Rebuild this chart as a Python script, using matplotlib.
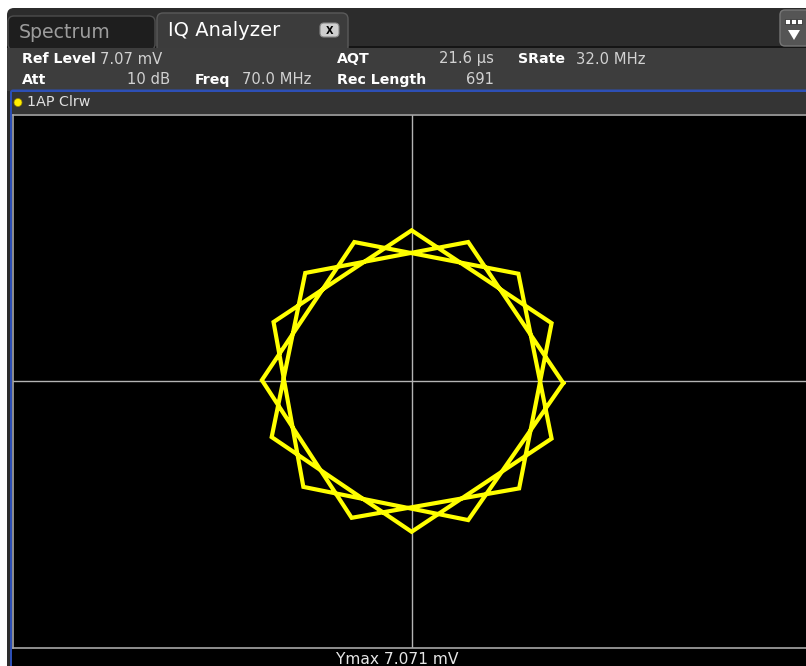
import matplotlib
matplotlib.use("Agg")
from matplotlib import pyplot as plt
from matplotlib.patches import Rectangle, FancyBboxPatch, Circle, Polygon

# IQ trace samples (mV) in trace order
i_vals = [4.01, 1.49, -2.83, -3.72, -0.01, 3.70, 2.82, -1.53, -3.98,
          -1.60, 2.84, 3.70, -0.01, -3.67, -2.88, 1.49, 4.01]
q_vals = [-0.05, 3.69, 2.87, -1.48, -3.99, -1.52, 2.85, 3.69, 0.03,
          -3.62, -2.84, 1.54, 4.00, 1.57, -2.80, -3.68, -0.05]

y_max = 7.071
tabs = ["Spectrum", "IQ Analyzer"]
header_rows = [
    [("Ref Level", True, 22, "left"), ("7.07 mV", False, 100, "left"),
     ("AQT", True, 337, "left"), ("21.6 µs", False, 494, "right"),
     ("SRate", True, 518, "left"), ("32.0 MHz", False, 576, "left")],
    [("Att", True, 22, "left"), ("10 dB", False, 170, "right"),
     ("Freq", True, 195, "left"), ("70.0 MHz", False, 242, "left"),
     ("Rec Length", True, 337, "left"), ("691", False, 494, "right")],
]
trace_label = "1AP Clrw"

W, H = 806, 666
fig = plt.figure(figsize=(W / 100, H / 100), dpi=100, facecolor="white")

# --- screen chrome drawn in pixel coordinates ---
ui = fig.add_axes([0, 0, 1, 1])
ui.set_xlim(0, W)
ui.set_ylim(H, 0)
ui.axis("off")

x0 = 7
ui.add_patch(FancyBboxPatch((x0, 8), W, H, boxstyle="round,pad=0,rounding_size=7",
                            fc="#2c2c2c", ec="none"))
ui.add_patch(Rectangle((x0, 46), W, 1.5, fc="#151515", ec="none"))
ui.add_patch(FancyBboxPatch((x0 + 1, 16), 147, 34, boxstyle="round,pad=0,rounding_size=6",
                            fc="#1e1e1e", ec="#4d4d4d", lw=1))
ui.add_patch(FancyBboxPatch((157, 13), 191, 40, boxstyle="round,pad=0,rounding_size=6",
                            fc="#3c3c3c", ec="#5a5a5a", lw=1))
ui.text(19, 32, tabs[0], color="#9c9c9c", fontsize=13.6, va="center", ha="left")
ui.text(168, 31, tabs[1], color="white", fontsize=14, va="center", ha="left")
ui.add_patch(FancyBboxPatch((320, 23), 19, 14, boxstyle="round,pad=0,rounding_size=4",
                            fc="#cfcfcf", ec="#888888", lw=0.8))
ui.text(329.5, 30.5, "X", color="black", fontsize=7, fontweight="bold",
        ha="center", va="center")

# menu button top right
ui.add_patch(FancyBboxPatch((780, 10), 30, 36, boxstyle="round,pad=0,rounding_size=5",
                            fc="#555555", ec="#767676", lw=1))
for dx in (787, 793, 799):
    ui.add_patch(Rectangle((dx - 2.5, 19), 5, 5, fc="white", ec="#222222", lw=0.5))
ui.add_patch(Polygon([[788, 30], [800, 30], [794, 40]], closed=True, fc="white", ec="none"))

# header info block
ui.add_patch(Rectangle((x0, 47.5), W, 43, fc="#3d3d3d", ec="none"))
for row, y in zip(header_rows, (59, 80)):
    for txt, bold, x, ha in row:
        ui.text(x, y, txt, color="white" if bold else "#d2d2d2",
                fontsize=10.2 if bold else 10.6,
                fontweight="bold" if bold else "normal", ha=ha, va="center")

# blue window frame + trace label row
ui.add_patch(FancyBboxPatch((10, 89.5), W, H, boxstyle="round,pad=0,rounding_size=3",
                            fc="#2d4fb5", ec="none"))
ui.add_patch(Rectangle((12, 92), W, 22, fc="#343434", ec="none"))
ui.add_patch(Circle((18, 102.5), 4, fc="#ffee00", ec="#998800", lw=0.5))
ui.text(27, 102.5, trace_label, color="#e0e0e0", fontsize=10.3, va="center", ha="left")
ui.add_patch(Rectangle((12, 113.5), W, H, fc="black", ec="none"))
ui.text(397, 659, "Ymax %.3f mV" % y_max, color="#e6e6e6", fontsize=11.2,
        ha="center", va="center")

# --- IQ diagram ---
left, right, top, bottom = 12.5, 806, 114.5, 648
ax = fig.add_axes([left / W, 1 - bottom / H, (right - left) / W, (bottom - top) / H])
ax.set_facecolor("black")
px_per_mv = (bottom - top) / 2 / y_max
cx = 412
ax.set_xlim(-(cx - left) / px_per_mv, (right - cx) / px_per_mv)
ax.set_ylim(-y_max, y_max)
ax.axhline(0, color="#b4b4b4", lw=1)
ax.axvline(0, color="#b4b4b4", lw=1)
ax.plot(i_vals, q_vals, color="#ffff00", lw=3, solid_joinstyle="miter")
ax.set_xticks([])
ax.set_yticks([])
for side in ("top", "bottom", "left"):
    ax.spines[side].set_color("#a8a8a8")
    ax.spines[side].set_linewidth(1.2)
ax.spines["right"].set_visible(False)

fig.savefig("out.png", dpi=100, facecolor=fig.get_facecolor())
